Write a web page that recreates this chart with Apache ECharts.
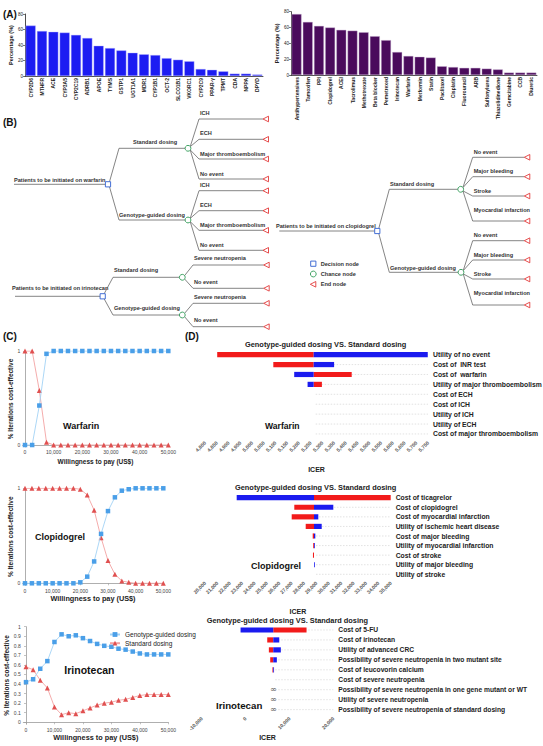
<!DOCTYPE html>
<html><head><meta charset="utf-8">
<script src="https://cdn.jsdelivr.net/npm/echarts@6/dist/echarts.min.js"></script>
<style>html,body{margin:0;padding:0;background:#fff}#c{width:543px;height:746px}</style>
</head><body><div id="c"></div>
<script>
// ================= DATA =================
// Panel A
const genes = ['CYP2D6','MTHFR','ACE','CYP3A5','CYP2C19','ADRB1','APOE','TYMS','GSTP1','UGT1A1','MDR1','CYP1B1','OCT-2','SLCO1B1','VKORC1','CYP2C9','PPAR-γ','TPMT','CDA','NPPA','DPYD'];
const genePct = [65,58,57,56,53,49,39,36,33,30,28,27,23,21,19,9,8,6,3,3,2];
const drugs = ['Antihypertensives','Tamoxifen','PPI','Clopidogrel','ACEI','Tacrolimus','Methotrexate','Beta blocker','Pemetrexed','Irinotecan','Warfarin','Metformin','Statin','Paclitaxel','Cisplatin','Fluorouracil','ARB','Sulfonylurea','Thiazolidinedione','Gemcitabine','CCB','Diuretic'];
const drugPct = [77,67,62,60,57,56,54,49,44,29,24,23,22,11,10,9,9,8,7,3,3,3];

// Panel B (decision trees) – labels only
const warfTree = {root:'Patients to be initiated on warfarin', branches:['Standard dosing','Genotype-guided dosing'],
  ends:[['ICH','ECH','Major thromboembolism','No event'],['ICH','ECH','Major thromboembolism','No event']]};
const iriTree = {root:'Patients to be initiated on irinotecan', branches:['Standard dosing','Genotype-guided dosing'],
  ends:[['Severe neutropenia','No event'],['Severe neutropenia','No event']]};
const clopTree = {root:'Patients to be initiated on clopidogrel', branches:['Standard dosing','Genotype-guided dosing'],
  ends:[['No event','Major bleeding','Stroke','Myocardial infarction'],['No event','Major bleeding','Stroke','Myocardial infarction']]};
const nodeLegend = ['Decision node','Chance node','End node'];

// Panel C (CEAC)
const wtp = [0,2500,5000,7500,10000,12500,15000,17500,20000,22500,25000,27500,30000,32500,35000,37500,40000,42500,45000,47500,50000];
const wtpTicks = [0,10000,20000,30000,40000,50000];
const warfGeno = [0,0,0.42,0.97,1,1,1,1,1,1,1,1,1,1,1,1,1,1,1,1,1];
const warfStd  = [1,1,0.58,0.03,0,0,0,0,0,0,0,0,0,0,0,0,0,0,0,0,0];
const clopGeno = [0,0,0,0,0,0,0,0,0.01,0.07,0.23,0.52,0.76,0.905,0.975,0.99,1,1,1,1,1];
const clopStd  = [1,1,1,1,1,1,1,1,0.99,0.93,0.77,0.48,0.24,0.095,0.025,0.01,0,0,0,0,0];
const iriGeno  = [0.42,0.45,0.56,0.64,0.84,0.92,0.90,0.91,0.88,0.85,0.82,0.80,0.79,0.77,0.76,0.74,0.72,0.71,0.71,0.71,0.71];
const iriStd   = [0.58,0.55,0.44,0.36,0.16,0.08,0.10,0.09,0.12,0.15,0.18,0.20,0.21,0.23,0.24,0.26,0.28,0.29,0.29,0.29,0.29];
const yTicks01 = [0,1];
const yTicksIri = [0,0.1,0.2,0.3,0.4,0.5,0.6,0.7,0.8,0.9,1];

// Panel D (tornado)
const tornTitle = 'Genotype-guided dosing VS. Standard dosing';
const wLabels = ['Utility of no event','Cost of  INR test','Cost of  warfarin','Utility of major thromboembolism','Cost of ECH','Cost of ICH','Utility of ICH','Utility of ECH','Cost of major thromboembolism'];
const wBase = 5263;
const wRed  = [4852,5091,5425,5298,null,null,null,null,null];
const wBlue = [5749,5350,5180,5237,null,null,null,null,null];
const cLabels = ['Cost of ticagrelor','Cost of clopidogrel','Cost of myocardial infarction','Utility of ischemic heart disease','Cost of major bleeding','Utility of myocardial infarction','Cost of stroke','Utility of major bleeding','Utility of stroke'];
const cBase = 28805;
const cRed  = [35000,27213,27003,28134,28700,28765,28720,null,null];
const cBlue = [22560,30364,29152,29427,28910,28840,null,28840,null];
const iLabels = ['Cost of 5-FU','Cost of irinotecan','Utility of advanced CRC','Possibility of severe neutropenia in two mutant site','Cost of leucovorin calcium','Cost of severe neutropenia','Possibility of severe neutropenia in one gene mutant or WT','Utility of severe neutropenia','Possibility of severe neutropenia of standard dosing'];
const iBase = 6310;
const iRed  = [13900,4940,5310,5620,6250,null,null,null,null];
const iBlue = [-1140,7680,8040,7130,6380,null,null,null,null];
const iInfinite = [0,0,0,0,0,0,1,1,1];

// ================= STYLE / LAYOUT =================
const FONT = 'Liberation Sans';
const BLUE_PT = '#4a9fe8', BLUE_LN = '#a3d2f5', RED_PT = '#e05050', RED_LN = '#f3a3a3';
const TBLUE = '#1b1bef', TRED = '#f21b1b';
const TREE_FS = 5.6;

const chart = echarts.init(document.getElementById('c'), null, {renderer:'svg', width:543, height:746});

function grid(left, top, width, height){ return {left, top, width, height, containLabel:false, outerBoundsMode:'none'}; }
const grids = [
  grid(25, 14, 238, 62),          // 0 A left
  grid(291, 11.7, 246, 63.3),     // 1 A right
  grid(22.7, 351, 145.6, 95.9),   // 2 C warfarin
  grid(22.7, 488.3, 140.6, 96.9), // 3 C clopidogrel
  grid(23.3, 626.7, 145, 97.5),   // 4 C irinotecan
  grid(205, 349.7, 223, 89.2),    // 5 D warfarin
  grid(205, 492.9, 185.7, 86.2),  // 6 D clopidogrel
  grid(201.7, 625, 131.6, 89.6)   // 7 D irinotecan
];

function barX(gi, cats){ return {type:'category', gridIndex:gi, data:cats,
  axisLine:{lineStyle:{color:'#222', width:0.8}}, axisTick:{show:false},
  axisLabel:{rotate:90, interval:0, fontSize:5, fontWeight:700, color:'#222', margin:2, fontFamily:FONT}}; }
function barY(gi){ return {type:'value', gridIndex:gi, min:0, max:80, interval:20,
  axisLine:{show:true, lineStyle:{color:'#222', width:0.8}}, axisTick:{show:true, length:2, lineStyle:{color:'#222', width:0.6}},
  axisLabel:{fontSize:4.5, color:'#222', margin:2, fontFamily:FONT}, splitLine:{show:false},
  name:'Percentage (%)', nameLocation:'middle', nameGap:10, nameTextStyle:{fontSize:5.5, fontWeight:700, color:'#222', fontFamily:FONT}}; }

function ceacX(gi, min, max, gap, size){ return {type:'value', gridIndex:gi, min, max,
  axisLine:{lineStyle:{color:'#9a9a9a', width:0.8}}, axisTick:{length:2, lineStyle:{color:'#9a9a9a', width:0.6}, customValues:wtpTicks},
  axisLabel:{fontSize:5, color:'#444', margin:3, customValues:wtpTicks, fontFamily:FONT}, splitLine:{show:false},
  name:'Willingness to pay (US$)', nameLocation:'middle', nameGap:gap, nameTextStyle:{fontSize:size, fontWeight:700, color:'#222', fontFamily:FONT}}; }
function ceacY(gi, ticks){ return {type:'value', gridIndex:gi, min:-0.02, max:1,
  axisLine:{show:true, lineStyle:{color:'#9a9a9a', width:0.8}}, axisTick:{show:true, length:2, lineStyle:{color:'#9a9a9a', width:0.6}, customValues:ticks},
  axisLabel:{fontSize:5, color:'#444', margin:2.5, customValues:ticks, fontFamily:FONT}, splitLine:{show:false},
  name:'% Iterations cost-effective', nameLocation:'middle', nameGap:8, nameTextStyle:{fontSize:6.5, fontWeight:700, color:'#222', fontFamily:FONT}}; }

function tornX(gi, min, max, interval, gap){ return {type:'value', gridIndex:gi, min, max, interval,
  axisLine:{lineStyle:{color:'#666', width:0.8}}, axisTick:{length:2.5, lineStyle:{color:'#666', width:0.6}},
  axisLabel:{rotate:45, fontSize:5, fontWeight:700, color:'#555', margin:3, fontFamily:FONT}, splitLine:{show:false},
  name:'ICER', nameLocation:'middle', nameGap:gap, nameTextStyle:{fontSize:7, fontWeight:700, color:'#222', fontFamily:FONT}}; }
function tornY(gi, labels, fs){ return {type:'category', gridIndex:gi, data:labels, inverse:true, position:'right',
  axisLine:{show:false}, axisTick:{show:false}, splitLine:{show:false},
  axisLabel:{interval:0, fontSize:fs, fontWeight:700, color:'#222', margin:5, fontFamily:FONT}}; }

function ceacSeries(gi, name, ys, isGeno){
  return {type:'line', name, xAxisIndex:gi, yAxisIndex:gi, data: wtp.map((x,i)=>[x, ys[i]]),
    symbol: isGeno ? 'rect' : 'triangle', symbolSize: isGeno ? 4.5 : 5,
    itemStyle:{color: isGeno ? BLUE_PT : RED_PT}, lineStyle:{color: isGeno ? BLUE_LN : RED_LN, width:0.9},
    z: isGeno ? 3 : 2};
}

function tornado(gi, labels, red, blue, base, xmax, inf){
  const data = labels.map((l,i)=>[i, red[i]==null?NaN:red[i], blue[i]==null?NaN:blue[i], inf && inf[i] ? 1 : 0]);
  return {type:'custom', name:'tornado'+gi, xAxisIndex:gi, yAxisIndex:gi, data, encode:{x:[1,2], y:0},
    renderItem: function(params, api){
      const i = api.value(0), r = api.value(1), b = api.value(2), f = api.value(3);
      const p0 = api.coord([base, i]);
      const pm = api.coord([xmax, i]);
      const h = 5.2;
      const ch = [{type:'line', shape:{x1:p0[0]+2, y1:p0[1], x2:pm[0], y2:p0[1]}, style:{stroke:'#cfcfcf', lineWidth:0.6, lineDash:[1.5,1.5]}}];
      function bar(v, color){
        if (v == null || isNaN(v)) return;
        const p = api.coord([v, i]);
        let x1 = Math.min(p0[0], p[0]), w = Math.abs(p[0]-p0[0]);
        if (w < 0.8){ w = 0.8; x1 = (p[0] < p0[0]) ? p0[0]-0.8 : p0[0]; }
        ch.push({type:'rect', shape:{x:x1, y:p0[1]-h/2, width:w, height:h}, style:{fill:color}});
      }
      bar(r, TRED); bar(b, TBLUE);
      if (f) ch.push({type:'text', x:p0[0], y:p0[1], z2:10, style:{text:'∞', fontSize:8, fill:'#666', align:'center', verticalAlign:'middle', fontFamily:'DejaVu Sans'}});
      return {type:'group', children:ch};
    }};
}

// ---------- graphic helpers (diagram + annotations) ----------
const TREE_LN = '#666';
function L(x1,y1,x2,y2){ return {type:'line', silent:true, shape:{x1,y1,x2,y2}, style:{stroke:TREE_LN, lineWidth:0.8}}; }
function T(x,y,text,size,extra){ return {type:'text', silent:true, x, y, style:Object.assign({text, fontSize:size, fontWeight:'bold', fill:'#333', fontFamily:FONT, align:'left', verticalAlign:'middle'}, extra||{})}; }
function SQ(x,y){ return {type:'rect', silent:true, shape:{x:x-2.6,y:y-2.6,width:5.2,height:5.2}, style:{stroke:'#2f5fd0', fill:'#fff', lineWidth:0.9}, z:10}; }
function CI(x,y){ return {type:'circle', silent:true, shape:{cx:x,cy:y,r:2.9}, style:{stroke:'#2e9a55', fill:'#fff', lineWidth:0.9}, z:10}; }
function TR(x,y){ return {type:'polygon', silent:true, shape:{points:[[x-3,y],[x+2.5,y-2.8],[x+2.5,y+2.8]]}, style:{stroke:'#e23a3a', fill:'#fff', lineWidth:0.9}, z:10}; }

function drawTree(t, lab){
  const g = [];
  g.push(T(t.rootTextX, t.rootTextY, lab.root, TREE_FS));
  g.push(L(t.rootLineX, t.rootY, t.sqX-2.6, t.rootY));
  t.branches.forEach((b, bi) => {
    const dir = b.y < t.rootY ? -1 : 1;
    g.push(L(t.sqX+1.5, t.rootY + dir*2.6, t.branchX, b.y));
    g.push(L(t.branchX, b.y, b.cx-2.9, b.y));
    g.push(T(b.textX, b.textY, lab.branches[bi], TREE_FS));
    b.ends.forEach((ey, ei) => {
      g.push(L(b.cx+2.2, b.y + (ey < b.y ? -1.6 : 1.6), t.fanX, ey));
      g.push(L(t.fanX, ey, t.endX-3, ey));
      g.push(TR(t.endX, ey));
      g.push(T(t.fanX+1, b.endLabelY[ei], lab.ends[bi][ei], TREE_FS));
    });
    g.push(CI(b.cx, b.y));
  });
  g.push(SQ(t.sqX, t.rootY));
  return g;
}
const warfLayout = {rootTextX:14, rootTextY:179.5, rootLineX:14, rootY:184.3, sqX:108, branchX:119, fanX:199, endX:266,
  branches:[{y:148.3, cx:188, textX:133, textY:141.7, ends:[119,139.3,159,179], endLabelY:[113.3,133.3,153.7,173.7]},
            {y:220, cx:188, textX:119, textY:215, ends:[190.7,210.7,230.3,250.3], endLabelY:[185,205,225,245.3]}]};
const iriLayout = {rootTextX:12, rootTextY:288.3, rootLineX:15, rootY:296.3, sqX:102.7, branchX:113, fanX:193, endX:266.7,
  branches:[{y:277.3, cx:182.3, textX:114, textY:270, ends:[265,288.3], endLabelY:[258.3,281.7]},
            {y:315, cx:182.3, textX:114, textY:308.3, ends:[303.3,326.7], endLabelY:[296.7,320.3]}]};
const clopLayout = {rootTextX:276, rootTextY:226, rootLineX:279.3, rootY:231, sqX:377.3, branchX:389.3, fanX:472.7, endX:527.3,
  branches:[{y:189.3, cx:460.7, textX:390, textY:184, ends:[157.3,176.7,196,221], endLabelY:[152.3,171.3,190.7,210]},
            {y:272.3, cx:461, textX:390, textY:267.7, ends:[240.7,260,279,305], endLabelY:[235,254.7,274,293.3]}]};

const graphics = [].concat(
  drawTree(warfLayout, warfTree), drawTree(iriLayout, iriTree), drawTree(clopLayout, clopTree),
  [SQ(313.3,263.7), T(320.7,263.7,nodeLegend[0],TREE_FS), CI(313.3,274), T(320.7,274,nodeLegend[1],TREE_FS), TR(313.3,284.3), T(320.7,284.3,nodeLegend[2],TREE_FS)],
  [T(3,14,'(A)',10,{fill:'#111'}), T(3,122,'(B)',10,{fill:'#111'}), T(3,336.7,'(C)',10,{fill:'#111'}), T(185,336.7,'(D)',10,{fill:'#111'}),
   T(63,426,'Warfarin',9,{fill:'#111'}), T(35,537.3,'Clopidogrel',9,{fill:'#111'}), T(64.3,670,'Irinotecan',10.5,{fill:'#111'}),
   T(265,426,'Warfarin',8.6,{fill:'#111'}), T(251,565.7,'Clopidogrel',9,{fill:'#111'}), T(216,705,'Irinotecan',9.7,{fill:'#111'}),
   T(245,344,tornTitle,7.4,{fill:'#222'}), T(235,487.3,tornTitle,7.4,{fill:'#222'}), T(206.7,620.7,tornTitle,7.4,{fill:'#222'})]
);

const option = {
  animation:false,
  backgroundColor:'#fff',
  textStyle:{fontFamily:FONT},
  grid: grids,
  xAxis:[
    barX(0, genes), barX(1, drugs),
    ceacX(2, -800, 50000, 11, 6.5), ceacX(3, -830, 50000, 10, 7.3), ceacX(4, -950, 50000, 10, 7.3),
    tornX(5, 4800, 5750, 50, 27), tornX(6, 20000, 35000, 1000, 29), tornX(7, -10000, 20000, 10000, 19)
  ],
  yAxis:[
    barY(0), barY(1),
    ceacY(2, yTicks01), ceacY(3, yTicks01), ceacY(4, yTicksIri),
    tornY(5, wLabels, 6.8), tornY(6, cLabels, 6.8), tornY(7, iLabels, 6.7)
  ],
  legend:{left:104, top:626, orient:'vertical', itemGap:1.7, itemWidth:10, itemHeight:6,
    textStyle:{fontSize:6.5, color:'#222', fontFamily:FONT}, data:['Genotype-guided dosing','Standard dosing']},
  series:[
    {type:'bar', xAxisIndex:0, yAxisIndex:0, data:genePct, barCategoryGap:'12%', itemStyle:{color:'#1c1cf2', borderColor:'#b9b9ff', borderWidth:0.4}},
    {type:'bar', xAxisIndex:1, yAxisIndex:1, data:drugPct, barCategoryGap:'12%', itemStyle:{color:'#4a0b5c', borderColor:'#c9b3d3', borderWidth:0.4}},
    ceacSeries(2, 'W-geno', warfGeno, true), ceacSeries(2, 'W-std', warfStd, false),
    ceacSeries(3, 'C-geno', clopGeno, true), ceacSeries(3, 'C-std', clopStd, false),
    ceacSeries(4, 'Genotype-guided dosing', iriGeno, true), ceacSeries(4, 'Standard dosing', iriStd, false),
    tornado(5, wLabels, wRed, wBlue, wBase, 5750, null),
    tornado(6, cLabels, cRed, cBlue, cBase, 35000, null),
    tornado(7, iLabels, iRed, iBlue, iBase, 20000, iInfinite)
  ],
  graphic: graphics
};
chart.setOption(option);
</script>
</body></html>
